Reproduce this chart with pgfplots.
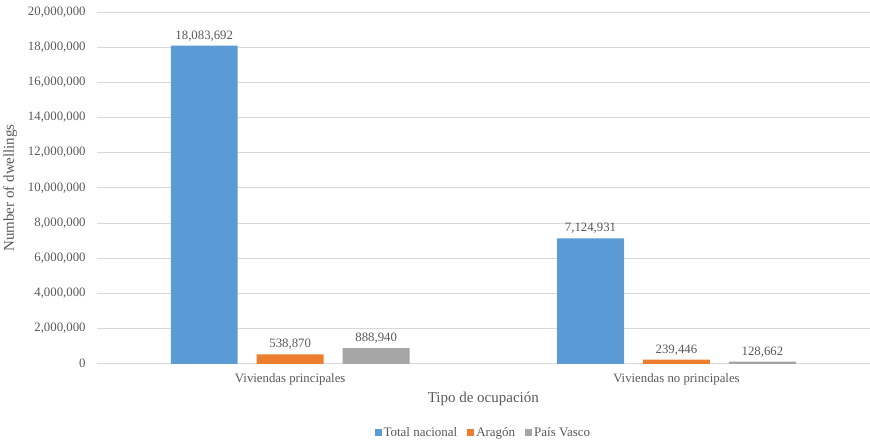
\documentclass[border=0pt]{standalone}
\usepackage{pgfplots}
\pgfplotsset{compat=1.18}
\usepackage{fontspec}
\setmainfont{Liberation Serif}
\definecolor{cblue}{HTML}{5B9BD5}
\definecolor{corange}{HTML}{ED7D31}
\definecolor{cgray}{HTML}{A5A5A5}
\definecolor{gridc}{HTML}{D9D9D9}
\definecolor{txt}{HTML}{595959}
\begin{document}
\begin{tikzpicture}
\begin{axis}[
  scale only axis,
  width=773pt, height=352pt,
  ybar=19pt,
  bar width=67pt,
  xmin=-0.5, xmax=1.5,
  ymin=0, ymax=20000000,
  ytick={0,2000000,...,20000000},
  xtick={0,1},
  xticklabels={Viviendas principales, Viviendas no principales},
  scaled y ticks=false,
  yticklabel style={xshift=-8pt, /pgf/number format/.cd, fixed, 1000 sep={,}, assume math mode=true},
  xticklabel style={yshift=-2pt},
  ymajorgrids, grid style={gridc, line width=0.8pt},
  axis line style={draw=none},
  tick style={draw=none},
  ticklabel style={font=\fontsize{12.8}{14}\selectfont, text=txt},
  xlabel={Tipo de ocupación},
  ylabel={Number of dwellings},
  label style={font=\fontsize{15}{17}\selectfont, text=txt},
  xlabel style={yshift=0pt},
  ylabel style={yshift=4pt},
  point meta=explicit symbolic,
  nodes near coords,
  nodes near coords style={font=\fontsize{12.8}{14}\selectfont, text=txt, yshift=1pt},
  legend style={at={(0.5,-0.168)}, anchor=north, legend columns=-1, draw=none,
    font=\fontsize{13}{15}\selectfont, text=txt,
    /tikz/every even column/.append style={column sep=8pt}},
  legend image code/.code={\fill[#1] (0pt,-3.5pt) rectangle (7pt,3.5pt);},
]
\addplot[fill=cblue, draw=none] coordinates {(0,18083692) [18,083,692] (1,7124931) [7,124,931]};
\addplot[fill=corange, draw=none] coordinates {(0,538870) [538,870] (1,239446) [239,446]};
\addplot[fill=cgray, draw=none] coordinates {(0,888940) [888,940] (1,128662) [128,662]};
\legend{Total nacional, Aragón, País Vasco}
\end{axis}
\path ([yshift=12pt]current axis.north west);
\end{tikzpicture}
\end{document}
